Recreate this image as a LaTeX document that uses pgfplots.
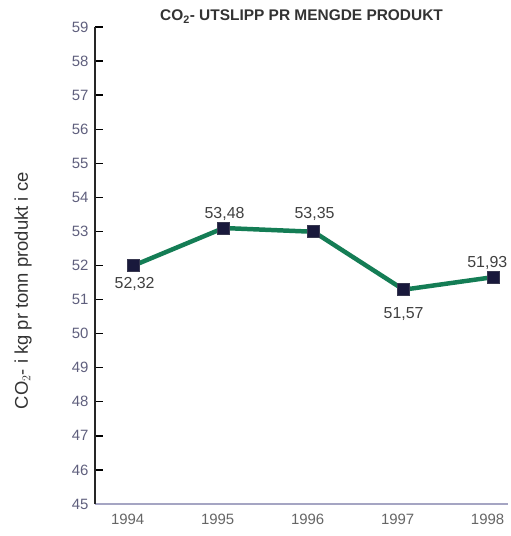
\documentclass[border=0pt]{standalone}
\usepackage{pgfplots}
\pgfplotsset{compat=1.18}
\usepackage{fontspec}
\setmainfont{Liberation Sans}
\definecolor{linegreen}{RGB}{20,125,85}
\definecolor{marknavy}{RGB}{25,25,60}
\definecolor{ticklab}{RGB}{95,95,125}
\definecolor{xaxcol}{RGB}{165,165,195}
\begin{document}
\begin{tikzpicture}
\path[use as bounding box] (-95bp,-32bp) rectangle (416bp,504bp);
\begin{axis}[
  scale only axis,
  width=413bp, height=477bp,
  xmin=1993.57, xmax=1998.16,
  ymin=45, ymax=59,
  axis lines=left,
  axis line style={-},
  x axis line style={draw=xaxcol, line width=2.2pt},
  y axis line style={draw=black!85, line width=2.2pt},
  ytick={45,46,...,59},
  xtick={1994,1995,1996,1997,1998},
  xticklabels={1994,1995,1996,1997,1998},
  tick align=inside,
  major tick length=8bp,
  y tick style={black, line width=1.4pt},
  x tick style={draw=none},
  /pgf/number format/assume math mode=true,
  tick label style={font=\fontsize{15}{17}\selectfont, text=ticklab},
  yticklabel style={xshift=-3bp},
  xticklabel style={xshift=-6bp, yshift=-7bp, text=black!60},
  title={\textbf{CO$_\mathbf{2}$- UTSLIPP PR MENGDE PRODUKT}},
  title style={at={(rel axis cs:0.5,1)}, anchor=south, yshift=-6bp, font=\fontsize{15.5}{17}\selectfont, text=black!80},
  ylabel={CO$_2$- i kg pr tonn produkt i ce},
  ylabel style={at={(axis description cs:-0.174,0.447)}, anchor=center, font=\fontsize{18.5}{20}\selectfont, text=black!80},
  clip=false,
]
\addplot[linegreen, line width=4.5pt, mark=square*, mark size=6bp,
  mark options={fill=marknavy, draw=marknavy!70!gray, line width=0.6pt}]
  coordinates {(1994,52.00) (1995,53.10) (1996,52.99) (1997,51.29) (1998,51.66)};
\begin{scope}[every node/.style={font=\fontsize{16}{18}\selectfont, text=black!75}]
\node at (axis cs:1994.01,51.46) {52,32};
\node at (axis cs:1995.01,53.51) {53,48};
\node at (axis cs:1996.01,53.51) {53,35};
\node at (axis cs:1997.00,50.58) {51,57};
\node at (axis cs:1997.93,52.08) {51,93};
\end{scope}
\end{axis}
\end{tikzpicture}
\end{document}
